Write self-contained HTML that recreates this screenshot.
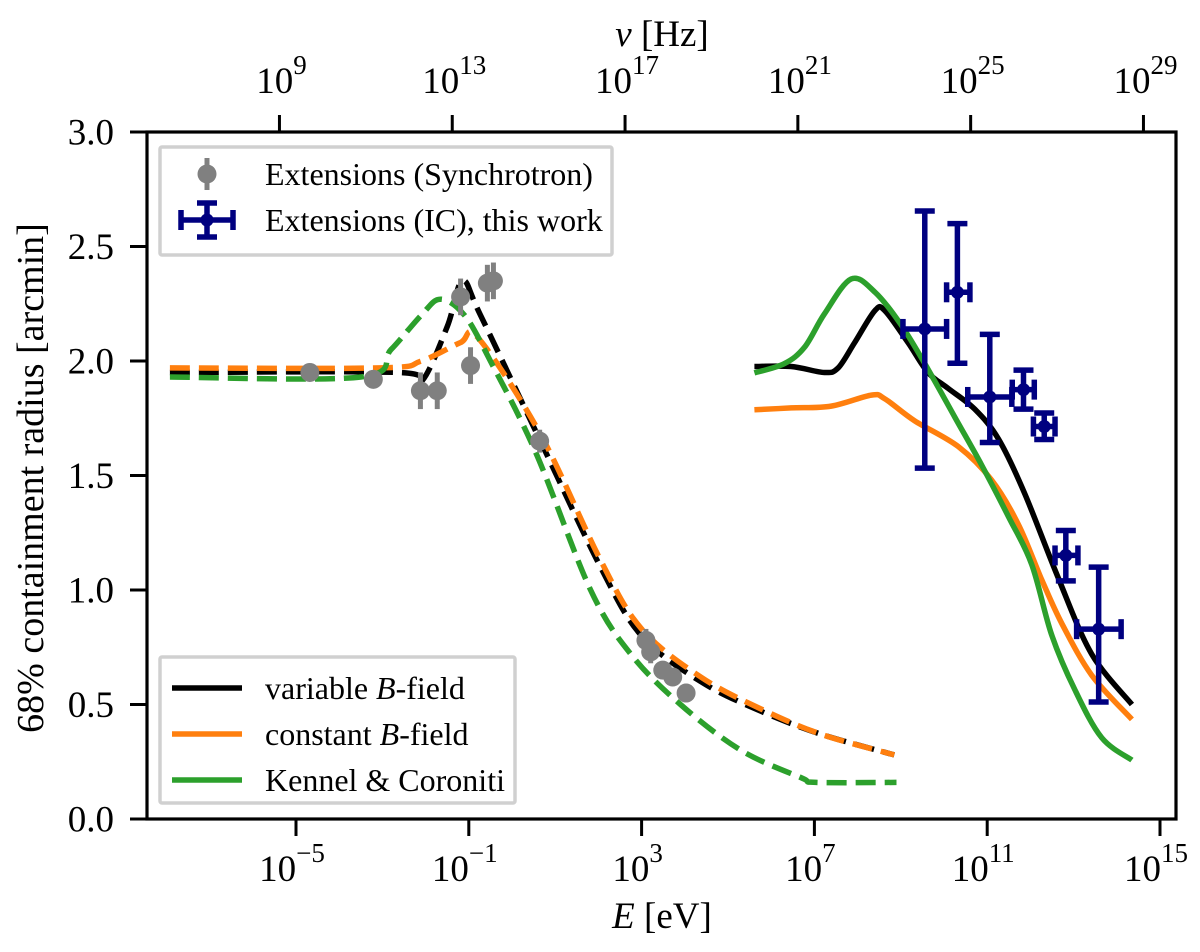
<!DOCTYPE html>
<html><head><meta charset="utf-8"><style>
html,body{margin:0;padding:0;background:#fff}
svg{display:block;font-family:"Liberation Serif",serif}
</style></head><body>
<svg id="chart" width="1200" height="952" viewBox="0 0 1200 952" xmlns="http://www.w3.org/2000/svg"></svg>
<script>
// ---- data (log10 E [eV], radius arcmin) ----
const varDashedX = [-7.92,-2.6,-2.1,-1.5,-1.15,-0.73,0.66,2.05,3,4.37,5.77,7.16,8.85];
const varDashedY = [1.95,1.95,1.91,2.15,2.35,2.2,1.65,1.1,0.8,0.6,0.47,0.37,0.28];
const constDashedX = [-7.92,-3.05,-2.1,-1.2,-0.78,0.66,2.05,3,4.37,5.77,7.16,8.85];
const constDashedY = [1.97,1.97,2.0,2.08,2.1,1.68,1.13,0.83,0.62,0.48,0.37,0.28];
const kcDashedX = [-7.92,-3.5,-2.8,-2.1,-1.66,-1.1,-0.5,0.55,1.82,2.75,3.9,5.3,6.7,7.04,8.9];
const kcDashedY = [1.93,1.93,2.05,2.2,2.27,2.2,2.0,1.6,1.0,0.72,0.5,0.3,0.18,0.16,0.16];
const varSolidX = [5.61,6.46,7.23,7.55,7.93,8.4,8.63,9.17,9.63,10.1,10.71,11.26,11.87,12.65,13.42,14.35];
const varSolidY = [1.976,1.976,1.95,1.97,2.08,2.22,2.22,2.08,1.95,1.88,1.79,1.66,1.42,1.05,0.72,0.5];
const constSolidX = [5.61,6.46,7.39,8.32,8.63,9.32,10.33,11.1,11.72,12.26,12.73,13.42,14.35];
const constSolidY = [1.787,1.795,1.803,1.851,1.835,1.739,1.626,1.481,1.287,1.046,0.853,0.628,0.435];
const kcSolidX = [5.61,6.3,6.77,7.23,7.85,8.4,9.01,9.63,10.25,10.87,11.49,12.03,12.49,13.03,13.65,14.35];
const kcSolidY = [1.948,1.988,2.06,2.205,2.358,2.301,2.157,1.964,1.755,1.546,1.321,1.112,0.805,0.564,0.355,0.257];
const synX = [-4.68,-3.21,-2.12,-1.73,-1.19,-0.96,-0.57,-0.43,0.64,3.10,3.21,3.49,3.72,4.03];
const synY = [1.95,1.92,1.87,1.87,2.28,1.98,2.34,2.35,1.65,0.78,0.73,0.65,0.62,0.55];
const synErr = [0.03,0.03,0.08,0.08,0.08,0.08,0.08,0.08,0.05,0.05,0.05,0.04,0.04,0.04];
const icX = [9.555,10.31,11.06,11.84,12.32,12.82,13.58];
const icXlo = [9.05,10.06,10.55,11.58,12.07,12.57,13.07];
const icXhi = [10.06,10.6,11.57,12.09,12.57,13.1,14.1];
const icY = [2.14,2.30,1.843,1.875,1.714,1.151,0.829];
const icYlo = [1.532,1.99,1.644,1.79,1.657,1.04,0.511];
const icYhi = [2.655,2.60,2.116,1.96,1.773,1.26,1.10];
const yTicks = [0,0.5,1,1.5,2,2.5,3];
const xTicks = [-5,-1,3,7,11,15];
const nuTicks = [9,13,17,21,25,29];

const L=147,R=1176,T=132,B=819;
const X0=296, PPD=43.2, NUOFF=14.383;
const sx = v => X0 + (v+5)*PPD;
const sy = v => B - v*(B-T)/3;
const NS="http://www.w3.org/2000/svg";
const svg=document.getElementById('chart');
function mk(tag,attrs,parent){const e=document.createElementNS(NS,tag);for(const k in attrs)e.setAttribute(k,attrs[k]);(parent||svg).appendChild(e);return e;}

const defs=mk('defs',{});
const cp=mk('clipPath',{id:'clip'},defs);
mk('rect',{x:L,y:T,width:R-L,height:B-T},cp);
const plot=mk('g',{'clip-path':'url(#clip)'});



function smoothPath(P){
  let d='M'+P[0][0].toFixed(1)+','+P[0][1].toFixed(1);
  for(let i=0;i<P.length-1;i++){
    const p0=P[Math.max(0,i-1)],p1=P[i],p2=P[i+1],p3=P[Math.min(P.length-1,i+2)];
    const c1=[p1[0]+(p2[0]-p0[0])/6,p1[1]+(p2[1]-p0[1])/6];
    const c2=[p2[0]-(p3[0]-p1[0])/6,p2[1]-(p3[1]-p1[1])/6];
    d+=' C'+c1[0].toFixed(1)+','+c1[1].toFixed(1)+' '+c2[0].toFixed(1)+','+c2[1].toFixed(1)+' '+p2[0].toFixed(1)+','+p2[1].toFixed(1);
  }
  return d;
}
function line(xs,ys,color,dashed,name){
  const P=xs.map((x,i)=>[sx(x),sy(ys[i])]);
  const p=mk('path',{d:smoothPath(P),fill:'none',stroke:color,'stroke-width':5.5,'stroke-linejoin':'round'},plot);
  if(dashed)p.setAttribute('stroke-dasharray','20,9');
  
  
}
line(varDashedX,varDashedY,'#000',true,'variable-b-synchrotron-line');
line(constDashedX,constDashedY,'#ff7f0e',true,'constant-b-synchrotron-line');
line(kcDashedX,kcDashedY,'#2ca02c',true,'kennel-coroniti-synchrotron-line');
line(varSolidX,varSolidY,'#000',false,'variable-b-ic-line');
line(constSolidX,constSolidY,'#ff7f0e',false,'constant-b-ic-line');
line(kcSolidX,kcSolidY,'#2ca02c',false,'kennel-coroniti-ic-line');

synX.forEach((x,i)=>{
  const g=mk('g',{},plot);
  
  
  mk('line',{x1:sx(x),x2:sx(x),y1:sy(synY[i]-synErr[i]),y2:sy(synY[i]+synErr[i]),stroke:'#808080','stroke-width':5},g);
  mk('circle',{cx:sx(x),cy:sy(synY[i]),r:9.5,fill:'#808080'},g);
});
icX.forEach((x,i)=>{
  const g=mk('g',{stroke:'#000080','stroke-width':5.5,fill:'none'},plot);
  
  
  const cx=sx(x),cy=sy(icY[i]),x1=sx(icXlo[i]),x2=sx(icXhi[i]),y1=sy(icYhi[i]),y2=sy(icYlo[i]);
  mk('line',{x1:x1,x2:x2,y1:cy,y2:cy},g);
  mk('line',{x1:cx,x2:cx,y1:y1,y2:y2},g);
  mk('line',{x1:x1,x2:x1,y1:cy-10,y2:cy+10},g);
  mk('line',{x1:x2,x2:x2,y1:cy-10,y2:cy+10},g);
  mk('line',{x1:cx-10,x2:cx+10,y1:y1,y2:y1},g);
  mk('line',{x1:cx-10,x2:cx+10,y1:y2,y2:y2},g);
  mk('circle',{cx:cx,cy:cy,r:6.5,fill:'#000080',stroke:'none'},g);
});

const frame=mk('rect',{x:L,y:T,width:R-L,height:B-T,fill:'none',stroke:'#000','stroke-width':3.2});



yTicks.forEach(v=>{
  mk('line',{x1:L-17,x2:L,y1:sy(v),y2:sy(v),stroke:'#000','stroke-width':3});
  const t=mk('text',{x:114,y:sy(v)+12.5,'text-anchor':'end','font-size':37});
  t.textContent=v.toFixed(1);
  
  
});
xTicks.forEach(v=>{
  mk('line',{x1:sx(v),x2:sx(v),y1:B,y2:B+17,stroke:'#000','stroke-width':3});
  const t=mk('text',{x:sx(v)-4,y:881,'text-anchor':'middle','font-size':37});
  t.innerHTML='10<tspan dy="-19" font-size="27">'+(v<0?'\u2212'+(-v):v)+'</tspan>';
  
  
});
nuTicks.forEach(v=>{
  const x=sx(v-NUOFF);
  mk('line',{x1:x,x2:x,y1:T-17,y2:T,stroke:'#000','stroke-width':3});
  const t=mk('text',{x:x+2,y:93,'text-anchor':'middle','font-size':37});
  t.innerHTML='10<tspan dy="-19" font-size="27">'+v+'</tspan>';
  
  
});

let t=mk('text',{x:662,y:928,'text-anchor':'middle','font-size':37});
t.innerHTML='<tspan font-style="italic">E</tspan> [eV]';


t=mk('text',{x:662,y:46,'text-anchor':'middle','font-size':37});
t.innerHTML='<tspan font-style="italic">ν</tspan> [Hz]';


t=mk('text',{x:0,y:0,'text-anchor':'middle','font-size':38,transform:'translate(43,478) rotate(-90)'});
t.textContent='68% containment radius [arcmin]';



// legend 1
const lg1=mk('g',{});


mk('rect',{x:160,y:147,width:452,height:108,fill:'#fff','fill-opacity':0.8,stroke:'#d0d0d0','stroke-width':3.5,rx:2},lg1);
mk('line',{x1:207,x2:207,y1:158,y2:190,stroke:'#808080','stroke-width':5},lg1);
mk('circle',{cx:207,cy:174,r:9.5,fill:'#808080'},lg1);
const ic=mk('g',{stroke:'#000080','stroke-width':5.5},lg1);
[[181,233,220,220],[207,207,203,237],[181,181,210,230],[233,233,210,230],[197,217,203,203],[197,217,237,237]].forEach(a=>mk('line',{x1:a[0],x2:a[1],y1:a[2],y2:a[3]},ic));
mk('circle',{cx:207,cy:220,r:6.5,fill:'#000080'},lg1);
t=mk('text',{x:265,y:185,'font-size':32},lg1);t.textContent='Extensions (Synchrotron)';


t=mk('text',{x:265,y:231,'font-size':32},lg1);t.textContent='Extensions (IC), this work';



// legend 2
const lg2=mk('g',{});


mk('rect',{x:160,y:657,width:355,height:146,fill:'#fff','fill-opacity':0.8,stroke:'#d0d0d0','stroke-width':3.5,rx:2},lg2);
[['#000','variable ','-field',688],['#ff7f0e','constant ','-field',734],['#2ca02c','Kennel &amp; Coroniti','',780]].forEach((e,i)=>{
  mk('line',{x1:172,x2:242,y1:e[3],y2:e[3],stroke:e[0],'stroke-width':5.5},lg2);
  const tt=mk('text',{x:265,y:e[3]+11,'font-size':32},lg2);
  tt.innerHTML= i<2 ? e[1]+'<tspan font-style="italic">B</tspan>'+e[2] : e[1];
  
  
});
</script>
</body></html>
